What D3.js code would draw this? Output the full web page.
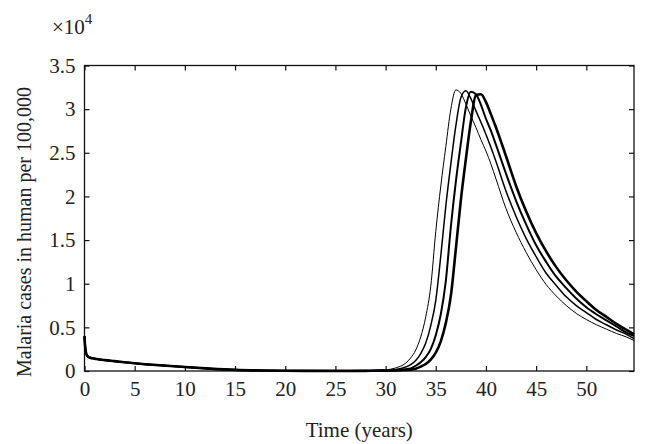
<!DOCTYPE html>
<html>
<head>
<meta charset="utf-8">
<script src="https://cdn.jsdelivr.net/npm/d3@7"></script>
<style>
  html, body { margin: 0; padding: 0; background: #fff; }
  svg { display: block; }
  .tick text { font-family: "Liberation Serif", "DejaVu Serif", serif; fill: #222; }
</style>
</head>
<body>
<div id="chart"></div>
<script>
// values are in units of 10^4 cases (see the x10^4 label)

// shared early phase, the four runs overlap here
const timeEarly = [0, 0.05, 0.15, 0.3, 0.5, 0.8, 1.2, 2, 3, 4, 5, 6, 7.5, 10, 12.5, 15, 17.5, 20, 25, 28, 29];
const casesEarly = [0.40, 0.30, 0.21, 0.17, 0.155, 0.145, 0.137, 0.125, 0.113, 0.10, 0.088, 0.078, 0.065, 0.045, 0.027, 0.013, 0.006, 0.003, 0.001, 0.002, 0.004];

// outbreak phase
const timeOutbreak = [30, 31, 32, 32.5, 33, 33.5, 34, 34.5, 35, 35.5, 36, 36.5, 37, 37.5, 38, 38.5, 39, 39.5, 40, 40.5, 41,
  42, 43, 44, 45, 46, 47, 48, 49, 50, 51, 52, 53, 54, 54.75];
const casesRun1 = [0.012, 0.035, 0.09, 0.15, 0.24, 0.39, 0.62, 0.97, 1.6, 2.12, 2.57, 3.0, 3.22, 3.18, 3.06, 2.92, 2.79, 2.65, 2.52, 2.37, 2.2,
  1.86, 1.59, 1.36, 1.16, 0.99, 0.86, 0.75, 0.66, 0.59, 0.53, 0.48, 0.43, 0.39, 0.35];
const casesRun2 = [0.007, 0.016, 0.045, 0.072, 0.12, 0.2, 0.32, 0.52, 0.81, 1.32, 1.89, 2.37, 2.81, 3.13, 3.21, 3.12, 2.98, 2.85, 2.71, 2.56, 2.40,
  2.06, 1.77, 1.52, 1.31, 1.12, 0.98, 0.85, 0.75, 0.67, 0.59, 0.53, 0.47, 0.42, 0.37];
const casesRun3 = [0.005, 0.009, 0.02, 0.03, 0.06, 0.1, 0.16, 0.25, 0.41, 0.65, 1.03, 1.65, 2.17, 2.61, 3.02, 3.2, 3.17, 3.05, 2.89, 2.75, 2.59,
  2.26, 1.95, 1.68, 1.44, 1.25, 1.08, 0.95, 0.83, 0.73, 0.65, 0.58, 0.51, 0.44, 0.40];
const casesRun4 = [0.004, 0.006, 0.011, 0.016, 0.027, 0.05, 0.08, 0.13, 0.21, 0.34, 0.55, 0.86, 1.4, 1.96, 2.43, 2.86, 3.16, 3.17, 3.08, 2.94, 2.79,
  2.46, 2.12, 1.83, 1.58, 1.37, 1.19, 1.04, 0.91, 0.80, 0.70, 0.62, 0.54, 0.47, 0.42];

const xTicks = [0, 5, 10, 15, 20, 25, 30, 35, 40, 45, 50];
const yTicks = [0, 0.5, 1, 1.5, 2, 2.5, 3, 3.5];

const runs = [casesRun1, casesRun2, casesRun3, casesRun4];
const lineWidths = [1, 1.5, 2, 2.6];

const width = 649, height = 444;
const margin = { top: 65.5, right: 15, bottom: 73, left: 84.5 };

const svg = d3.select("#chart")
  .append("svg")
  .attr("width", width)
  .attr("height", height);

const x = d3.scaleLinear()
  .domain([0, 54.75])
  .range([margin.left, width - margin.right]);

const y = d3.scaleLinear()
  .domain([0, 3.5])
  .range([height - margin.bottom, margin.top]);

const fontFam = '"Liberation Serif", "DejaVu Serif", serif';

// bottom axis, ticks point inward
const xAxis = svg.append("g")
  .attr("transform", `translate(0,${y(0)})`)
  .call(d3.axisBottom(x).tickValues(xTicks).tickSize(-5).tickPadding(10).tickFormat(d3.format("d")));
xAxis.selectAll("text").style("font-size", "21px");

// top axis, ticks only
svg.append("g")
  .attr("transform", `translate(0,${y(3.5)})`)
  .call(d3.axisTop(x).tickValues(xTicks).tickSize(-5).tickFormat(""));

// left axis
const yAxis = svg.append("g")
  .attr("transform", `translate(${x(0)},0)`)
  .call(d3.axisLeft(y).tickValues(yTicks).tickSize(-5).tickPadding(9).tickFormat(d => String(d)));
yAxis.selectAll("text").style("font-size", "21px");

// right axis, ticks only
svg.append("g")
  .attr("transform", `translate(${x(54.75)},0)`)
  .call(d3.axisRight(y).tickValues(yTicks).tickSize(-5).tickFormat(""));

svg.selectAll(".domain").remove();
svg.selectAll(".tick line").attr("stroke", "#111").attr("stroke-width", 1.2);

// box round the plot
svg.append("rect")
  .attr("x", x(0))
  .attr("y", y(3.5))
  .attr("width", x(54.75) - x(0))
  .attr("height", y(0) - y(3.5))
  .attr("fill", "none")
  .attr("stroke", "#111")
  .attr("stroke-width", 1.3);

// the four runs
const line = d3.line()
  .x(d => x(d[0]))
  .y(d => y(d[1]))
  .curve(d3.curveMonotoneX);

runs.forEach((vals, i) => {
  const pts = timeEarly.map((t, j) => [t, casesEarly[j]])
    .concat(timeOutbreak.map((t, j) => [t, vals[j]]));
  svg.append("path")
    .datum(pts)
    .attr("fill", "none")
    .attr("stroke", "#000")
    .attr("stroke-width", lineWidths[i])
    .attr("stroke-linejoin", "round")
    .attr("d", line);
});

// axis titles
svg.append("text")
  .attr("x", (x(0) + x(54.75)) / 2)
  .attr("y", 437)
  .attr("text-anchor", "middle")
  .style("font-family", fontFam)
  .style("font-size", "21px")
  .style("fill", "#222")
  .text("Time (years)");

svg.append("text")
  .attr("transform", "translate(31,232) rotate(-90)")
  .attr("text-anchor", "middle")
  .style("font-family", fontFam)
  .style("font-size", "20px")
  .style("fill", "#222")
  .text("Malaria cases in human per 100,000");

// exponent label
const expo = svg.append("text")
  .attr("x", 52)
  .attr("y", 34)
  .style("font-family", fontFam)
  .style("font-size", "21px")
  .style("fill", "#222");
expo.append("tspan").text("×10");
expo.append("tspan").attr("dy", -10).style("font-size", "15px").text("4");
</script>
</body>
</html>
